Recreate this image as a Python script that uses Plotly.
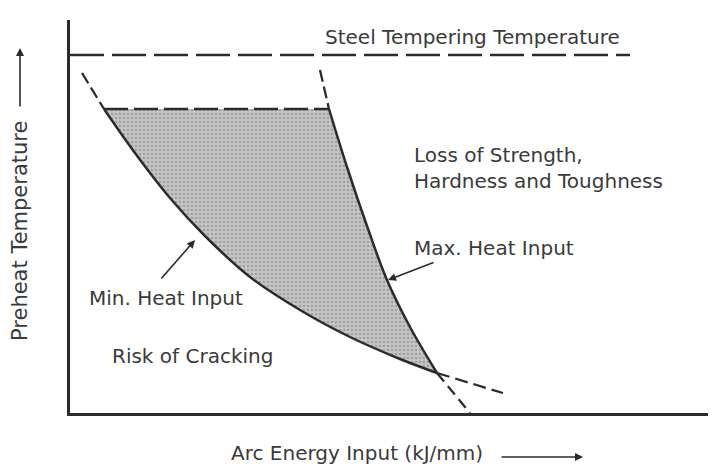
import plotly.graph_objects as go

# ---- data (schematic units: x = arc energy, y = preheat temperature) ----
min_heat_x = [34, 65, 100, 135, 180, 230, 280, 330, 367]
min_heat_y = [304, 260, 215, 177, 136, 103, 76, 54, 40]

max_heat_x = [259, 277, 297, 317, 340, 367]
max_heat_y = [304, 246, 187, 133, 86, 40]

temper_x = [0, 560]
temper_y = [358, 358]

window_top_x = [34, 259]
window_top_y = [304, 304]

min_ext_hi_x = [12, 34]
min_ext_hi_y = [340, 304]
min_ext_lo_x = [367, 433]
min_ext_lo_y = [40, 20]

max_ext_hi_x = [250, 259]
max_ext_hi_y = [343, 304]
max_ext_lo_x = [367, 400]
max_ext_lo_y = [40, 0]

X_RANGE = [0, 646]
Y_RANGE = [0, 393]

INK = "#2b2b2b"
TXT = "#3a3a3a"
FONT = "DejaVu Sans, Liberation Sans, Arial, sans-serif"

fig = go.Figure()

# max heat input curve (base for fill)
fig.add_trace(go.Scatter(
    x=max_heat_x, y=max_heat_y, mode="lines",
    line=dict(color=INK, width=2.5, shape="spline"),
    hoverinfo="skip", showlegend=False))

# min heat input curve with filled operating window
fig.add_trace(go.Scatter(
    x=min_heat_x, y=min_heat_y, mode="lines",
    line=dict(color=INK, width=2.5, shape="spline"),
    fill="tonextx",
    fillcolor="#c6c6c6",
    fillpattern=dict(shape=".", bgcolor="#c6c6c6", fgcolor="#787878",
                     size=4, solidity=0.35),
    hoverinfo="skip", showlegend=False))

def dashed(xs, ys, dash, width=2.3):
    fig.add_trace(go.Scatter(
        x=xs, y=ys, mode="lines",
        line=dict(color=INK, width=width, dash=dash),
        hoverinfo="skip", showlegend=False))

dashed(temper_x, temper_y, "34px,8px")
dashed(window_top_x, window_top_y, "24px,6px")
dashed(min_ext_hi_x, min_ext_hi_y, "12px,5px")
dashed(max_ext_hi_x, max_ext_hi_y, "12px,5px")
dashed(min_ext_lo_x, min_ext_lo_y, "13px,6px")
dashed(max_ext_lo_x, max_ext_lo_y, "11px,6px")

def px(xd):
    return xd / (X_RANGE[1] - X_RANGE[0])

def py(yd):
    return yd / (Y_RANGE[1] - Y_RANGE[0])

ann = []
def text(x, y, s, size=20, xanchor="left", angle=0, align="left"):
    ann.append(dict(x=px(x), y=py(y), xref="paper", yref="paper", text=s,
                    showarrow=False, xanchor=xanchor, yanchor="middle",
                    textangle=angle, align=align,
                    font=dict(family=FONT, size=size, color=TXT)))

text(402, 376, "Steel Tempering Temperature", xanchor="center")
text(342, 245, "Loss of Strength,<br>Hardness and Toughness")
text(342, 165, "Max. Heat Input")
text(17, 115, "Min. Heat Input")
text(40, 57, "Risk of Cracking")
text(287, -40, "Arc Energy Input (kJ/mm)", xanchor="center")
text(-50, 182, "Preheat Temperature", size=21, xanchor="center", angle=-90)

def arrow(xh, yh, xt, yt, width=1.6):
    ann.append(dict(x=xh, y=yh, ax=xt, ay=yt, xref="x", yref="y",
                    axref="x", ayref="y", text="", showarrow=True,
                    arrowhead=2, arrowsize=1, arrowwidth=width,
                    arrowcolor=INK, standoff=0, startstandoff=0))

def paper_arrow(xh, yh, dx_px, dy_px, width=1.6):
    ann.append(dict(x=px(xh), y=py(yh), xref="paper", yref="paper",
                    ax=dx_px, ay=dy_px, text="", showarrow=True,
                    arrowhead=2, arrowsize=1, arrowwidth=width,
                    arrowcolor=INK, standoff=0, startstandoff=0))

arrow(125, 173, 90, 133)        # min heat input pointer
arrow(318, 133, 365, 151)       # max heat input pointer
paper_arrow(513, -44, -83, 0)   # x-axis arrow
paper_arrow(-50, 365, 0, 60)    # y-axis arrow

# the page body has an 8px default margin; size/margins compensate for it
fig.update_layout(
    width=708, height=461,
    margin=dict(l=62, r=0, t=12, b=56),
    paper_bgcolor="white", plot_bgcolor="white",
    annotations=ann,
    showlegend=False,
    xaxis=dict(range=X_RANGE, showgrid=False, zeroline=False,
               showticklabels=False, ticks="", showline=True,
               linecolor=INK, linewidth=2.5, fixedrange=True),
    yaxis=dict(range=Y_RANGE, showgrid=False, zeroline=False,
               showticklabels=False, ticks="", showline=True,
               linecolor=INK, linewidth=2.5, fixedrange=True),
)

fig.write_html("out.html")
